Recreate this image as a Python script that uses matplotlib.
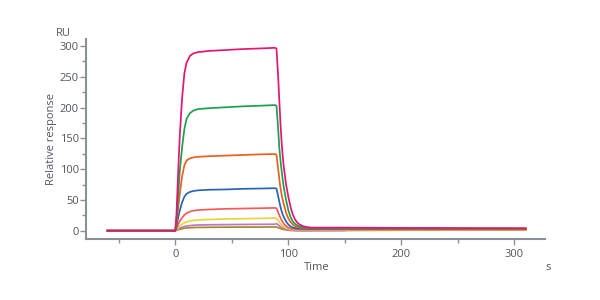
import numpy as np
import matplotlib
matplotlib.use("Agg")
import matplotlib.pyplot as plt
from matplotlib.ticker import MultipleLocator

plt.rcParams['font.family'] = ['Open Sans', 'DejaVu Sans']

time_s = [-60, 0, 1, 2, 3, 4, 6, 8, 10, 13, 16, 20, 30, 45, 60, 75, 88,
          89.5, 91, 92, 93, 94, 95, 96, 98, 100, 102, 104, 106, 108, 110,
          113, 116, 120, 130, 150, 200, 250, 310]

pink = [0, 0, 25, 70, 115, 155, 215, 255, 273, 284, 288, 290, 292, 293.5, 295, 296, 297,
        296, 250, 212, 175, 145, 122, 103, 75, 55, 38, 26, 18, 13, 10,
        7.5, 6, 5, 5, 5, 4.5, 4.2, 4]
green = [0, 0, 15, 40, 70, 97, 135, 165, 182, 191, 195, 197.5, 199, 200.5, 202, 203, 204,
         203, 165, 135, 115, 98, 83, 70, 50, 33, 22, 15, 11, 8.5, 7,
         5.5, 5, 4.6, 4.3, 4.2, 4, 3.8, 3.6]
orange = [0, 0, 12, 28, 44, 60, 88, 106, 114, 117.5, 119, 120, 121, 122, 123, 124, 124.5,
          123.5, 100, 84, 70, 59, 50, 43, 29, 20, 14, 10, 7.5, 6, 5,
          4.3, 4, 3.8, 3.6, 3.5, 3.3, 3.2, 3]
blue = [0, 0, 7, 16, 25, 33, 46, 55, 60, 63, 64.5, 65.5, 66.5, 67, 68, 68.5, 69,
        68.5, 56, 47, 39, 32, 26.5, 22, 15, 10, 7, 5.3, 4.3, 3.7, 3.4,
        3.1, 3, 3, 3, 3, 2.9, 2.8, 2.7]
salmon = [0, 0, 3, 8, 12, 15.5, 21, 25.5, 28.5, 31, 32.5, 33.5, 34.5, 35.5, 36, 36.5, 37,
          36.5, 30, 25, 21, 17, 14, 11, 7.5, 5, 3.8, 3, 2.6, 2.4, 2.2,
          2.1, 2, 2, 2, 2, 2, 2, 2]
yellow = [0, 0, 1.5, 4, 6, 7.8, 10.5, 12.8, 14.3, 15.8, 16.6, 17.3, 18.3, 19, 19.5, 20, 20.5,
          20, 16.5, 14, 11.5, 9.5, 8, 6.5, 4.5, 3.2, 2.5, 2, 1.8, 1.7, 1.6,
          1.5, 1.5, 1.5, 1.5, 1.5, 1.5, 1.5, 1.5]
purple = [0, 0, 0.8, 2, 3, 4, 5.5, 6.7, 7.5, 8.3, 8.8, 9.2, 9.6, 9.9, 10.1, 10.3, 10.5,
          11.5, 9.5, 8, 6.7, 5.5, 4.5, 3.7, 2.5, 1.6, 1.1, 0.8, 0.6, 0.4, 0.3,
          0.3, 0.3, 0.3, 0.3, 0.3, np.nan, np.nan, np.nan]
olive = [0, 0, 0.5, 1.2, 1.8, 2.3, 3.2, 3.9, 4.4, 4.8, 5.1, 5.3, 5.5, 5.7, 5.8, 5.9, 6,
         6, 5, 4.2, 3.5, 2.9, 2.4, 2, 1.3, 0.8, 0.5, 0.3, 0.1, 0, 0,
         0, 0, 0, 0.2, 0.4, 0.8, 1, 1.2]

series = [olive, purple, yellow, salmon, blue, orange, green, pink]
colors = ['#a8882a', '#b77ac4', '#e9d43a', '#f25a5a', '#2a62b8', '#e8601e', '#1aa050', '#e6156f']

fig = plt.figure(figsize=(6, 3), dpi=100)
ax = fig.add_axes([0.1433, 0.2023, 0.765, 0.667])
for ys, c in zip(series, colors):
    ax.plot(time_s, ys, color=c, lw=1.25, solid_joinstyle='round')

ax.set_xlim(-79, 327)
ax.set_ylim(-14, 311)
ax.xaxis.set_major_locator(MultipleLocator(100))
ax.xaxis.set_minor_locator(MultipleLocator(50))
ax.yaxis.set_major_locator(MultipleLocator(50))
ax.yaxis.set_minor_locator(MultipleLocator(25))

spine_c = '#8a9098'
lab_c = '#505560'
for s in ['top', 'right']:
    ax.spines[s].set_visible(False)
for s in ['left', 'bottom']:
    ax.spines[s].set_color(spine_c)
    ax.spines[s].set_linewidth(1.5)
ax.tick_params(which='major', length=4, width=1, color=spine_c, labelsize=8, labelcolor=lab_c)
ax.tick_params(axis='y', which='major', pad=1)
ax.tick_params(axis='x', which='major', pad=3)
ax.tick_params(which='minor', length=3, width=1, color=spine_c)

ax.set_ylabel('Relative response', fontsize=8, color=lab_c, labelpad=2)
fig.text(0.527, 0.11, 'Time', fontsize=8, color=lab_c, ha='center', va='center')
fig.text(0.913, 0.108, 's', fontsize=8, color=lab_c, ha='center', va='center')
fig.text(0.105, 0.89, 'RU', fontsize=8, color=lab_c, ha='center', va='center')

fig.savefig('out.png', dpi=100)
